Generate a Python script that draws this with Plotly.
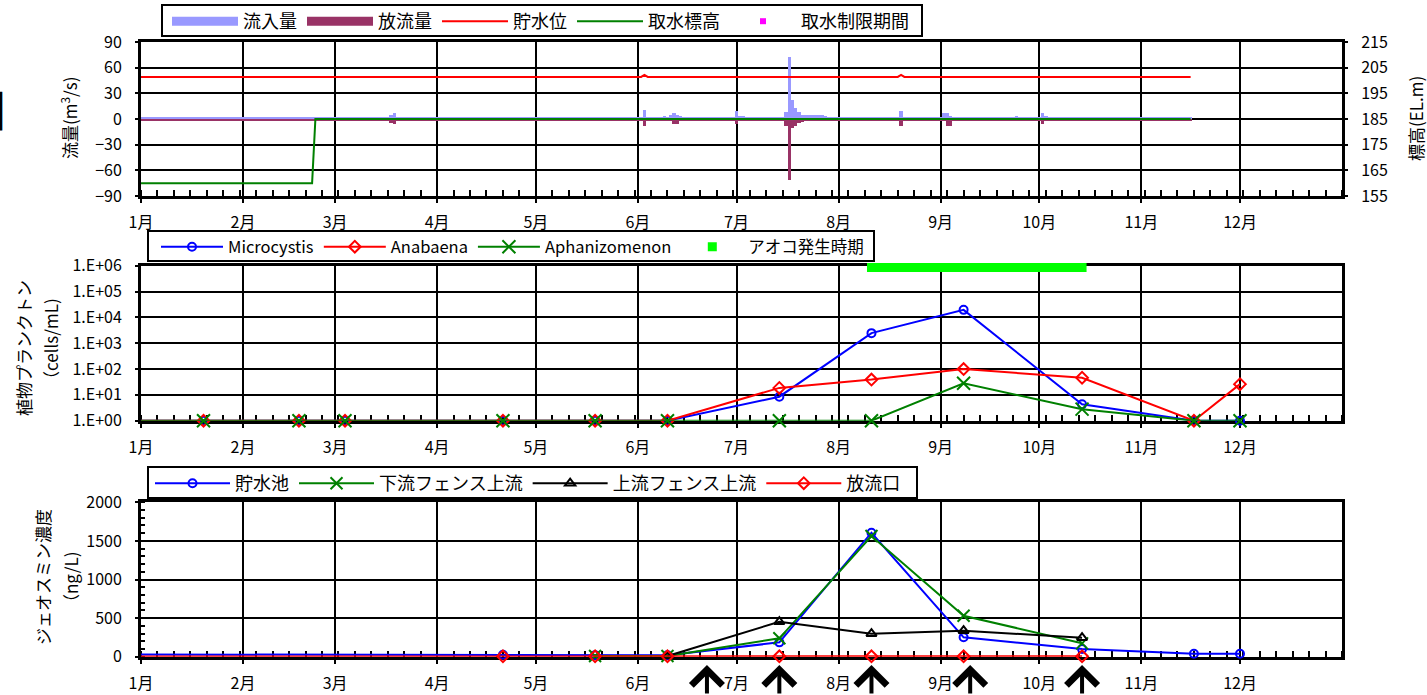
import pandas as pd
import plotly.graph_objects as go

FONT = "Noto Sans CJK JP"
W, H = 1427, 695
ML, MR = 141, 85
PW = W - ML - MR
DAY_MS = 86400000


def fx(px):
    """pixel column -> paper x"""
    return (px - ML) / PW


def fy(py):
    """pixel row -> paper y"""
    return 1 - py / H


YEAR_START, YEAR_END = "2010-01-01", "2011-01-01"
month_ticks = [f"2010-{m:02d}-01" for m in range(1, 13)]
month_labels = [f"{m}月" for m in range(1, 13)]

# ---------------- daily inflow (m3/s), Jan 1 - Nov 16 ----------------
inflow_jan = [2.5, 2.5, 2.5, 2.5, 2.5, 2.5, 2.5, 2.5, 2.5, 2.5,
              2.5, 2.5, 2.5, 2.5, 2.5, 2.5, 2.5, 2.5, 2.5, 2.5,
              2.5, 2.5, 2.5, 2.5, 2.5, 2.5, 2.5, 2.5, 2.5, 2.5,
              2.5]
inflow_feb = [2.5, 2.5, 2.5, 2.5, 2.5, 2.5, 2.5, 2.5, 2.5, 2.5,
              2.5, 2.5, 2.5, 2.5, 2.5, 2.5, 2.5, 2.5, 2.5, 2.5,
              2.5, 2.5, 2.5, 2.5, 2.5, 2.5, 2.5, 2.5]
inflow_mar = [2.5, 2.5, 2.5, 2.5, 2.5, 2.5, 2.5, 2.5, 2.5, 2.5,
              2.5, 2.5, 2.5, 2.5, 2.5, 2.5, 2.5, 4.5, 6.5, 2.5,
              2.5, 2.5, 2.5, 2.5, 2.5, 2.5, 2.5, 2.5, 2.5, 2.5,
              2.5]
inflow_apr = [2.5, 2.5, 2.5, 2.5, 2.5, 2.5, 2.5, 2.5, 2.5, 2.5,
              2.5, 2.5, 2.5, 2.5, 2.5, 2.5, 2.5, 2.5, 2.5, 2.5,
              2.5, 2.5, 2.5, 2.5, 2.5, 2.5, 2.5, 2.5, 2.5, 2.5]
inflow_may = [2.5, 2.5, 2.5, 2.5, 2.5, 2.5, 2.5, 2.5, 2.5, 2.5,
              2.5, 2.5, 2.5, 2.5, 2.5, 2.5, 2.5, 2.5, 2.5, 2.5,
              2.5, 2.5, 2.5, 2.5, 2.5, 2.5, 2.5, 2.5, 2.5, 2.5,
              2.5]
inflow_jun = [2.5, 2.5, 10.5, 2.5, 2.5, 2.5, 2.5, 2.5, 3.5, 2.5,
              4.5, 6.5, 5.0, 3.5, 2.5, 2.5, 2.5, 2.5, 2.5, 2.5,
              2.5, 2.5, 2.5, 2.5, 2.5, 2.5, 2.5, 2.5, 2.5, 2.5]
inflow_jul = [9.5, 4.0, 3.5, 2.5, 2.5, 2.5, 2.5, 2.5, 2.5, 2.5,
              2.5, 2.5, 2.5, 2.5, 2.5, 8.0, 72.5, 22.0, 13.0, 8.5,
              5.0, 5.0, 4.5, 4.5, 4.5, 4.5, 4.5, 4.0, 2.5, 2.5,
              2.5]
inflow_aug = [2.5, 2.5, 2.5, 2.5, 2.5, 2.5, 2.5, 2.5, 2.5, 2.5,
              2.5, 2.5, 2.5, 2.5, 2.5, 2.5, 2.5, 2.5, 2.5, 9.5,
              2.5, 2.5, 2.5, 2.5, 2.5, 2.5, 2.5, 2.5, 2.5, 2.5,
              2.5]
inflow_sep = [2.5, 6.5, 6.5, 4.0, 2.5, 2.5, 2.5, 2.5, 2.5, 2.5,
              2.5, 2.5, 2.5, 2.5, 2.5, 2.5, 2.5, 2.5, 2.5, 2.5,
              2.5, 2.5, 2.5, 3.5, 2.5, 2.5, 2.5, 2.5, 2.5, 2.5]
inflow_oct = [2.5, 6.5, 4.0, 2.5, 2.5, 2.5, 2.5, 2.5, 2.5, 2.5,
              2.5, 2.5, 2.5, 2.5, 2.5, 2.5, 2.5, 2.5, 2.5, 2.5,
              2.5, 2.5, 2.5, 2.5, 2.5, 2.5, 2.5, 2.5, 2.5, 2.5,
              2.5]
inflow_nov = [2.5, 2.5, 2.5, 2.5, 2.5, 2.5, 2.5, 2.5, 2.5, 2.5,
              2.5, 2.5, 2.5, 2.5, 2.5, 2.5]

# ---------------- daily outflow (m3/s), Jan 1 - Nov 16 ----------------
outflow_jan = [2.5, 2.5, 2.5, 2.5, 2.5, 2.5, 2.5, 2.5, 2.5, 2.5,
               2.5, 2.5, 2.5, 2.5, 2.5, 2.5, 2.5, 2.5, 2.5, 2.5,
               2.5, 2.5, 2.5, 2.5, 2.5, 2.5, 2.5, 2.5, 2.5, 2.5,
               2.5]
outflow_feb = [2.5, 2.5, 2.5, 2.5, 2.5, 2.5, 2.5, 2.5, 2.5, 2.5,
               2.5, 2.5, 2.5, 2.5, 2.5, 2.5, 2.5, 2.5, 2.5, 2.5,
               2.5, 2.5, 2.5, 2.5, 2.5, 2.5, 2.5, 2.5]
outflow_mar = [2.5, 2.5, 2.5, 2.5, 2.5, 2.5, 2.5, 2.5, 2.5, 2.5,
               2.5, 2.5, 2.5, 2.5, 2.5, 2.5, 2.5, 4.5, 5.5, 2.5,
               2.5, 2.5, 2.5, 2.5, 2.5, 2.5, 2.5, 2.5, 2.5, 2.5,
               2.5]
outflow_apr = [2.5, 2.5, 2.5, 2.5, 2.5, 2.5, 2.5, 2.5, 2.5, 2.5,
               2.5, 2.5, 2.5, 2.5, 2.5, 2.5, 2.5, 2.5, 2.5, 2.5,
               2.5, 2.5, 2.5, 2.5, 2.5, 2.5, 2.5, 2.5, 2.5, 2.5]
outflow_may = [2.5, 2.5, 2.5, 2.5, 2.5, 2.5, 2.5, 2.5, 2.5, 2.5,
               2.5, 2.5, 2.5, 2.5, 2.5, 2.5, 2.5, 2.5, 2.5, 2.5,
               2.5, 2.5, 2.5, 2.5, 2.5, 2.5, 2.5, 2.5, 2.5, 2.5,
               2.5]
outflow_jun = [2.5, 2.5, 8.0, 2.5, 2.5, 2.5, 2.5, 2.5, 2.5, 2.5,
               2.5, 6.0, 6.0, 2.5, 2.5, 2.5, 2.5, 2.5, 2.5, 2.5,
               2.5, 2.5, 2.5, 2.5, 2.5, 2.5, 2.5, 2.5, 2.5, 2.5]
outflow_jul = [6.0, 2.5, 2.5, 2.5, 2.5, 2.5, 2.5, 2.5, 2.5, 2.5,
               2.5, 2.5, 2.5, 2.5, 2.5, 8.0, 71.0, 10.5, 8.0, 4.5,
               3.5, 2.5, 2.5, 2.5, 2.5, 2.5, 2.5, 2.5, 2.5, 2.5,
               2.5]
outflow_aug = [2.5, 2.5, 2.5, 2.5, 2.5, 2.5, 2.5, 2.5, 2.5, 2.5,
               2.5, 2.5, 2.5, 2.5, 2.5, 2.5, 2.5, 2.5, 2.5, 8.0,
               2.5, 2.5, 2.5, 2.5, 2.5, 2.5, 2.5, 2.5, 2.5, 2.5,
               2.5]
outflow_sep = [2.5, 2.5, 8.0, 8.0, 2.5, 2.5, 2.5, 2.5, 2.5, 2.5,
               2.5, 2.5, 2.5, 2.5, 2.5, 2.5, 2.5, 2.5, 2.5, 2.5,
               2.5, 2.5, 2.5, 2.5, 2.5, 2.5, 2.5, 2.5, 2.5, 2.5]
outflow_oct = [2.5, 5.5, 2.5, 2.5, 2.5, 2.5, 2.5, 2.5, 2.5, 2.5,
               2.5, 2.5, 2.5, 2.5, 2.5, 2.5, 2.5, 2.5, 2.5, 2.5,
               2.5, 2.5, 2.5, 2.5, 2.5, 2.5, 2.5, 2.5, 2.5, 2.5,
               2.5]
outflow_nov = [2.5, 2.5, 2.5, 2.5, 2.5, 2.5, 2.5, 2.5, 2.5, 2.5,
               2.5, 2.5, 2.5, 2.5, 2.5, 2.5]

inflow_months = [inflow_jan, inflow_feb, inflow_mar, inflow_apr, inflow_may, inflow_jun,
                 inflow_jul, inflow_aug, inflow_sep, inflow_oct, inflow_nov]
outflow_months = [outflow_jan, outflow_feb, outflow_mar, outflow_apr, outflow_may, outflow_jun,
                  outflow_jul, outflow_aug, outflow_sep, outflow_oct, outflow_nov]

# ---------------- reservoir level / intake elevation (EL.m) ----------------
level_dates = ["2010-01-01", "2010-06-02", "2010-06-03", "2010-06-04",
               "2010-08-19", "2010-08-20", "2010-08-21", "2010-11-16"]
level_values = [201.4, 201.4, 202.2, 201.4, 201.4, 202.2, 201.4, 201.4]

intake_dates = ["2010-01-01", "2010-02-22", "2010-02-23", "2010-11-16"]
intake_values = [160.0, 160.0, 185.0, 185.0]

restrict_dates = []
restrict_values = []

# ---------------- phytoplankton (cells/mL) ----------------
plankton_dates = ["2009-12-09", "2010-01-20", "2010-02-18", "2010-03-04", "2010-04-21",
                  "2010-05-19", "2010-06-10", "2010-07-14", "2010-08-11", "2010-09-08",
                  "2010-10-14", "2010-11-17", "2010-12-01"]
microcystis = [1, 1, 1, 1, 1, 1, 1, 8.5, 2450, 19500, 4.3, 1, 1]
anabaena = [1, 1, 1, 1, 1, 1, 1, 18.6, 39, 100, 46, 1, 26]
aphanizomenon = [1, 1, 1, 1, 1, 1, 1, 1, 1, 28, 2.8, 1, 1]

bloom_start, bloom_end = "2010-08-11", "2010-10-14"

# ---------------- geosmin (ng/L) ----------------
reservoir_dates = ["2009-12-09", "2010-04-21", "2010-05-19", "2010-06-10", "2010-07-14",
                   "2010-08-11", "2010-09-08", "2010-10-14", "2010-11-17", "2010-12-01"]
reservoir_geo = [31, 25, 20, 18, 186, 1606, 251, 100, 39, 39]

down_fence_dates = ["2010-05-19", "2010-06-10", "2010-07-14", "2010-08-11", "2010-09-08", "2010-10-14"]
down_fence_geo = [8, 8, 238, 1563, 531, 173]

up_fence_dates = ["2010-06-10", "2010-07-14", "2010-08-11", "2010-09-08", "2010-10-14"]
up_fence_geo = [8, 453, 298, 337, 246]

outlet_dates = ["2009-12-09", "2010-04-21", "2010-05-19", "2010-06-10", "2010-07-14",
                "2010-08-11", "2010-09-08", "2010-10-14"]
outlet_geo = [3, 5, 5, 5, 5, 5, 5, 5]

arrow_dates = ["2010-06-22", "2010-07-14", "2010-08-11", "2010-09-10", "2010-10-14"]


def daily_dates(month_lists):
    dates = []
    for m, vals in enumerate(month_lists, start=1):
        dates += list(pd.date_range(f"2010-{m:02d}-01", periods=len(vals), freq="D"))
    return dates


flow_dates = daily_dates(inflow_months)
inflow = [v for month in inflow_months for v in month]
outflow = [v for month in outflow_months for v in month]

INFLOW_COLOR, OUTFLOW_COLOR = "#9999FF", "#993366"

fig = go.Figure()

# ---- panel 1: flows (bars, left axis) and elevations (lines, right axis)
fig.add_trace(go.Bar(x=flow_dates, y=inflow, name="流入量", width=DAY_MS,
                     marker=dict(color=INFLOW_COLOR, line=dict(width=0)),
                     showlegend=False, xaxis="x", yaxis="y"))
fig.add_trace(go.Bar(x=flow_dates, y=[-v for v in outflow], name="放流量", width=DAY_MS,
                     marker=dict(color=OUTFLOW_COLOR, line=dict(width=0)),
                     showlegend=False, xaxis="x", yaxis="y"))
# legend keys for the two bar series (wide band swatches)
for name, color in [("流入量", INFLOW_COLOR), ("放流量", OUTFLOW_COLOR)]:
    fig.add_trace(go.Scatter(x=[None], y=[None], name=name, mode="lines",
                             line=dict(color=color, width=9),
                             xaxis="x", yaxis="y", legend="legend"))
fig.add_trace(go.Scatter(x=level_dates, y=level_values, name="貯水位", mode="lines",
                         line=dict(color="#FF0000", width=2),
                         xaxis="x", yaxis="y4", legend="legend"))
fig.add_trace(go.Scatter(x=intake_dates, y=intake_values, name="取水標高", mode="lines",
                         line=dict(color="#008000", width=2),
                         xaxis="x", yaxis="y4", legend="legend"))
fig.add_trace(go.Scatter(x=restrict_dates or [None], y=restrict_values or [None],
                         name="取水制限期間", mode="markers",
                         marker=dict(symbol="square", color="#FF00FF", size=6),
                         xaxis="x", yaxis="y4", legend="legend"))

# ---- panel 2: phytoplankton
plankton_series = [
    ("Microcystis", microcystis, "#0000FF", "circle-open", 8),
    ("Anabaena", anabaena, "#FF0000", "diamond-open", 9),
    ("Aphanizomenon", aphanizomenon, "#008000", "x-thin", 13),
]
for name, vals, color, sym, size in plankton_series:
    fig.add_trace(go.Scatter(
        x=plankton_dates, y=vals, name=name, mode="lines+markers",
        line=dict(color=color, width=2),
        marker=dict(symbol=sym, size=size, color=color, line=dict(color=color, width=2)),
        cliponaxis=False, xaxis="x2", yaxis="y2", legend="legend2"))

AOKO_LEVEL = 8.5e5
bloom_days = pd.date_range(bloom_start, bloom_end, freq="D")
fig.add_trace(go.Scatter(
    x=bloom_days, y=[AOKO_LEVEL] * len(bloom_days), name="アオコ発生時期", mode="markers",
    marker=dict(symbol="square", size=9, color="#00FF00", line=dict(width=0)),
    cliponaxis=False, xaxis="x2", yaxis="y2", legend="legend2"))

# ---- panel 3: geosmin
geosmin_series = [
    ("貯水池", reservoir_dates, reservoir_geo, "#0000FF", "circle-open", 8),
    ("下流フェンス上流", down_fence_dates, down_fence_geo, "#008000", "x-thin", 12),
    ("上流フェンス上流", up_fence_dates, up_fence_geo, "#000000", "triangle-up-open", 9),
    ("放流口", outlet_dates, outlet_geo, "#FF0000", "diamond-open", 9),
]
for name, dates, vals, color, sym, size in geosmin_series:
    fig.add_trace(go.Scatter(
        x=dates, y=vals, name=name, mode="lines+markers",
        line=dict(color=color, width=2),
        marker=dict(symbol=sym, size=size, color=color, line=dict(color=color, width=2)),
        cliponaxis=False, xaxis="x3", yaxis="y3", legend="legend3"))


def x_axis(anchor):
    return dict(
        type="date", range=[YEAR_START, YEAR_END], anchor=anchor, domain=[0, 1],
        tickmode="array", tickvals=month_ticks, ticktext=month_labels,
        showgrid=True, gridcolor="black", gridwidth=2, zeroline=False,
        showline=True, linecolor="black", linewidth=3, mirror=True,
        ticks="outside", ticklen=4, tickwidth=2, tickcolor="black",
        ticklabelstandoff=6,
        minor=dict(tickmode="linear", tick0=YEAR_START, dtick=5 * DAY_MS, ticks="inside",
                   ticklen=6, tickwidth=2, tickcolor="black", showgrid=False),
        tickfont=dict(family=FONT, size=16, color="black"), layer="below traces")


def y_common():
    return dict(showgrid=True, gridcolor="black", gridwidth=2, zeroline=False,
                showline=True, linecolor="black", linewidth=3, mirror=True,
                ticks="outside", ticklen=3, tickwidth=2, tickcolor="black",
                ticklabelstandoff=10,
                tickfont=dict(family=FONT, size=16, color="black"), layer="below traces")


top_dom = [fy(196), fy(42)]
mid_dom = [fy(420.7), fy(265.7)]
bot_dom = [fy(656.7), fy(502.3)]

# legend frames (pixel boxes: left, top, right, bottom)
legend_boxes = [(162, 5, 922, 36), (148, 231, 874, 261), (148, 467, 917, 498)]
shapes = [dict(type="rect", xref="paper", yref="paper",
               x0=fx(l), x1=fx(r), y0=fy(b), y1=fy(t),
               line=dict(color="black", width=2), fillcolor="white", layer="above")
          for (l, t, r, b) in legend_boxes]


def legend_cfg(left_px, box, size, itemwidth):
    l, t, r, b = box
    return dict(orientation="h", xanchor="left", yanchor="middle",
                x=fx(left_px), y=fy((t + b) / 2 + 1),
                bgcolor="rgba(0,0,0,0)", borderwidth=0, tracegroupgap=0,
                itemwidth=itemwidth, font=dict(family=FONT, size=size, color="black"),
                itemclick=False, itemdoubleclick=False)


title_font = dict(family=FONT, size=17, color="black")
annotations = [
    dict(text="流量(m<sup>3</sup>/s)", x=fx(69), y=fy(118), textangle=-90),
    dict(text="標高(EL.m)", x=fx(1415), y=fy(119), textangle=-90),
    dict(text="植物プランクトン", x=fx(24), y=fy(348), textangle=-90),
    dict(text="（cells/mL)", x=fx(50), y=fy(343), textangle=-90),
    dict(text="ジェオスミン濃度", x=fx(42), y=fy(577), textangle=-90),
    dict(text="（ng/L)", x=fx(70), y=fy(581), textangle=-90),
]
for a in annotations:
    a.update(xref="paper", yref="paper", xanchor="center", yanchor="middle",
             showarrow=False, font=title_font)

annotations.append(dict(text="図", x=fx(8), y=fy(108), xref="paper", yref="paper",
                        xanchor="right", yanchor="middle", showarrow=False,
                        font=dict(family=FONT, size=44, color="black")))

for d in arrow_dates:
    annotations.append(dict(x=d, y=fy(665), xref="x3", yref="paper", text="",
                            showarrow=True, ax=0, ay=40, axref="pixel", ayref="pixel",
                            arrowhead=4, arrowwidth=4, arrowsize=1.5, arrowcolor="black",
                            standoff=0))

fig.update_layout(
    width=W, height=H, margin=dict(l=ML, r=MR, t=0, b=0, autoexpand=False),
    paper_bgcolor="white", plot_bgcolor="white",
    font=dict(family=FONT, color="black"),
    barmode="overlay", bargap=0, showlegend=True,
    xaxis=x_axis("y"),
    xaxis2=x_axis("y2"),
    xaxis3=x_axis("y3"),
    yaxis=dict(**y_common(), domain=top_dom, anchor="x", range=[-90, 90],
               tickmode="linear", tick0=-90, dtick=30),
    yaxis4=dict(**{k: v for k, v in y_common().items() if k != "showgrid"}, showgrid=False,
                overlaying="y", side="right", anchor="x", range=[155, 215],
                tickmode="linear", tick0=155, dtick=10),
    yaxis2=dict(**y_common(), domain=mid_dom, anchor="x2", type="log", range=[0, 6],
                tickmode="array", tickvals=[1, 10, 100, 1e3, 1e4, 1e5, 1e6],
                ticktext=["1.E+00", "1.E+01", "1.E+02", "1.E+03", "1.E+04", "1.E+05", "1.E+06"]),
    yaxis3=dict(**y_common(), domain=bot_dom, anchor="x3", range=[0, 2000],
                tickmode="linear", tick0=0, dtick=500,
                minor=dict(tickmode="linear", tick0=0, dtick=100, ticks="inside", ticklen=4,
                           tickwidth=2, tickcolor="black", showgrid=False)),
    legend=legend_cfg(167, legend_boxes[0], 18, 66),
    legend2=legend_cfg(156, legend_boxes[1], 16.5, 62),
    legend3=legend_cfg(150, legend_boxes[2], 18, 75),
    shapes=shapes,
    annotations=annotations,
)

fig.write_html("out.html")
